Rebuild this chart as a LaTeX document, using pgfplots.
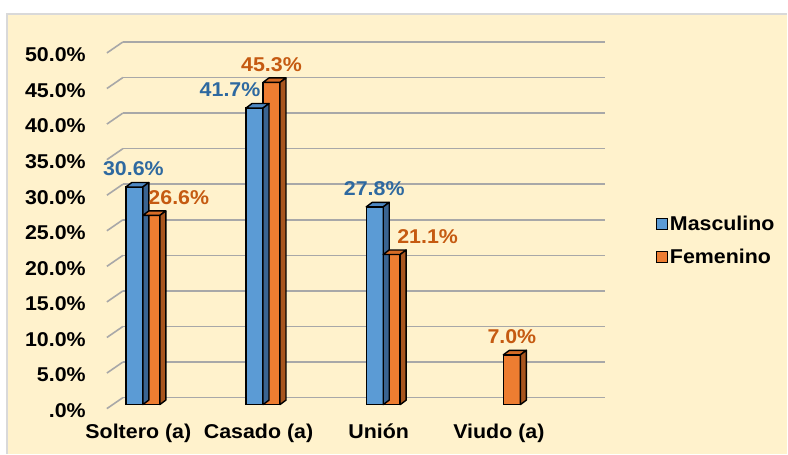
\documentclass[border=0pt]{standalone}
\usepackage{pgfplots}
\pgfplotsset{compat=1.18}
\usepackage{pgfplotstable}
\usepackage{fontspec}
\setmainfont{Liberation Sans}[FakeStretch=1.07]

\definecolor{bg}{RGB}{255,242,204}
\definecolor{bordergray}{RGB}{217,217,217}
\definecolor{gridgray}{RGB}{168,168,168}
\definecolor{bluebar}{RGB}{91,155,213}
\definecolor{bluetop}{RGB}{78,136,194}
\definecolor{blueside}{RGB}{58,100,145}
\definecolor{orangebar}{RGB}{237,125,49}
\definecolor{orangetop}{RGB}{214,108,38}
\definecolor{orangeside}{RGB}{168,85,30}
\definecolor{bluelab}{RGB}{46,105,160}
\definecolor{orangelab}{RGB}{197,90,17}

\newcommand{\cf}{\bfseries\fontsize{20}{24}\selectfont}

\pgfplotstableread{
x m dx
0 30.6 -9.5
1 41.7 -33
2 27.8 -9
}\datM
\pgfplotstableread{
x f dx
0 26.6 36
1 45.3 8.5
2 21.1 44.5
3 7.0 8.5
}\datF

\pgfdeclareplotmark{boxM}{%
  \filldraw[fill=bluetop, draw=black, line width=1.4pt, line join=round]
    (-17pt,0pt) -- (-11pt,4.5pt) -- (6pt,4.5pt) -- (0pt,0pt) -- cycle;
  \filldraw[fill=blueside, draw=black, line width=1.4pt, line join=round]
    (0pt,0pt) -- (6pt,4.5pt) -- (6pt,{(4.5-7.12*\ry)*1pt}) -- (0pt,{(-7.12*\ry)*1pt}) -- cycle;
}
\pgfdeclareplotmark{boxF}{%
  \filldraw[fill=orangetop, draw=black, line width=1.4pt, line join=round]
    (0pt,0pt) -- (6pt,4.5pt) -- (23pt,4.5pt) -- (17pt,0pt) -- cycle;
  \filldraw[fill=orangeside, draw=black, line width=1.4pt, line join=round]
    (17pt,0pt) -- (23pt,4.5pt) -- (23pt,{(4.5-7.12*\ry)*1pt}) -- (17pt,{(-7.12*\ry)*1pt}) -- cycle;
}

\begin{document}
\begin{tikzpicture}
\fill[white] (0,0) rectangle (788pt,454pt);
\fill[bg] (7pt,0) rectangle (788pt,440pt);
\draw[bordergray, line width=1.5pt] (7pt,0) -- (7pt,440pt) -- (788pt,440pt);
\useasboundingbox (0,0) rectangle (788pt,454pt);

% back wall: gridlines and value labels
\begin{axis}[
  at={(123pt,56pt)}, anchor=south west,
  scale only axis, width=483pt, height=356pt,
  xmin=-0.166, xmax=3.849, ymin=0, ymax=50,
  clip=false,
  axis line style={draw=none},
  major tick length=0pt,
  xtick=\empty,
  ytick={0,5,...,50},
  yticklabels={.0\%,5.0\%,10.0\%,15.0\%,20.0\%,25.0\%,30.0\%,35.0\%,40.0\%,45.0\%,50.0\%},
  yticklabel style={font=\cf, anchor=east, inner sep=0pt, xshift=-37pt, yshift=-13pt},
  ymajorgrids,
  major grid style={draw=gridgray, line width=1.6pt},
]
\addplot[draw=none, forget plot] coordinates {(0,0)};
\pgfplotsinvokeforeach{0,5,...,50}{
  \draw[gridgray, line width=1.6pt] (axis cs:-0.166,#1) -- ++(-16pt,-11pt);
}
\end{axis}

% front plane: bars
\begin{axis}[
  at={(123pt,49pt)}, anchor=south west,
  scale only axis, width=483pt, height=356pt,
  xmin=-0.166, xmax=3.849, ymin=0, ymax=50,
  clip=false,
  axis line style={draw=none},
  major tick length=0pt,
  ytick=\empty,
  xtick={0,1,2,3},
  xticklabels={Soltero (a),Casado (a),Unión,Viudo (a)},
  xticklabel style={font=\cf, anchor=base, inner sep=0pt, xshift=-4.5pt, yshift=-34pt},
  legend style={draw=none, fill=none, inner sep=0pt, at={(1.1035,0.462)}, anchor=west,
    row sep=13pt, font=\cf},
  legend cell align=left,
]
\addplot[ybar, bar width=17pt, bar shift=-8.5pt, fill=bluebar, draw=black, line width=1.4pt,
  point meta=y,
  visualization depends on={\thisrow{dx} \as \dx},
  nodes near coords={\pgfmathprintnumber[fixed,fixed zerofill,precision=1,assume math mode=true]{\pgfplotspointmeta}\%},
  nodes near coords style={font=\cf, text=bluelab, anchor=center, xshift=\dx pt, yshift=18pt},
  legend image code/.code={\draw[fill=bluebar, draw=black, line width=1.4pt] (0pt,-5.5pt) rectangle (11pt,5.5pt);}
] table[x=x,y=m]{\datM};
\addlegendentry{Masculino}
\addplot[only marks, mark=boxM, forget plot,
  visualization depends on={\thisrow{m} \as \ry}] table[x=x,y=m]{\datM};

\addplot[ybar, bar width=17pt, bar shift=8.5pt, fill=orangebar, draw=black, line width=1.4pt,
  point meta=y,
  visualization depends on={\thisrow{dx} \as \dx},
  nodes near coords={\pgfmathprintnumber[fixed,fixed zerofill,precision=1,assume math mode=true]{\pgfplotspointmeta}\%},
  nodes near coords style={font=\cf, text=orangelab, anchor=center, xshift=\dx pt, yshift=18pt},
  legend image code/.code={\draw[fill=orangebar, draw=black, line width=1.4pt] (0pt,-5.5pt) rectangle (11pt,5.5pt);}
] table[x=x,y=f]{\datF};
\addlegendentry{Femenino}
\addplot[only marks, mark=boxF, forget plot,
  visualization depends on={\thisrow{f} \as \ry}] table[x=x,y=f]{\datF};
\end{axis}
\end{tikzpicture}
\end{document}
